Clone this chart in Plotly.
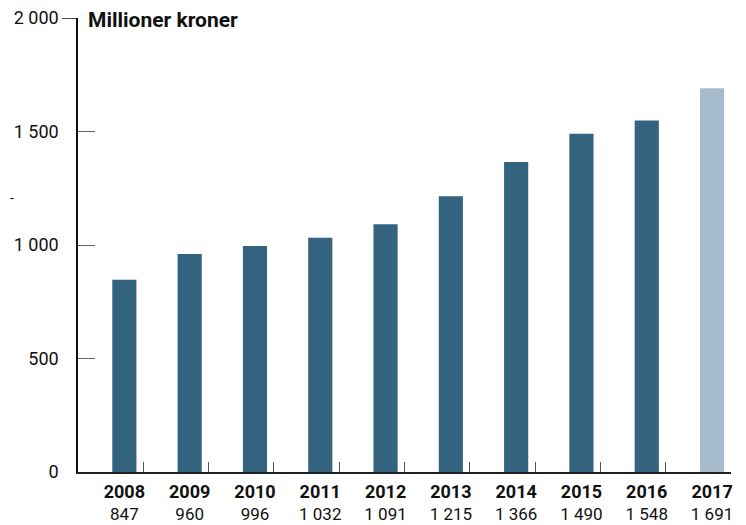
import plotly.graph_objects as go

years = ["2008", "2009", "2010", "2011", "2012", "2013", "2014", "2015", "2016", "2017"]
values = [847, 960, 996, 1032, 1091, 1215, 1366, 1490, 1548, 1691]
value_labels = ["847", "960", "996", "1 032", "1 091", "1 215", "1 366", "1 490", "1 548", "1 691"]
y_ticks = [0, 500, 1000, 1500, 2000]
y_tick_labels = ["0", "500", "1 000", "1 500", "2 000"]

dark = "#33637f"
light = "#a6bccd"
colors = [dark] * (len(years) - 1) + [light]

pos = list(range(len(years)))
# category separators sit just right of each bar
sep = [p + 0.29 for p in pos]
x_range = [-0.71, len(years) - 1 + 0.29]

fig = go.Figure()
fig.add_trace(go.Bar(
    x=pos, y=values, marker=dict(color=colors, line=dict(width=0)),
    width=0.37, showlegend=False, hoverinfo="skip",
))
# invisible trace to activate the separator axis
fig.add_trace(go.Scatter(x=sep, y=[None] * len(sep), xaxis="x2",
                         mode="markers", showlegend=False, hoverinfo="skip"))

# the page body adds an 8px margin, so the figure is 8px smaller each way
fig.update_layout(
    width=738, height=517,
    margin=dict(l=70, r=15, t=10, b=53, autoexpand=False),
    paper_bgcolor="white", plot_bgcolor="white",
    font=dict(family="Roboto, sans-serif", size=17, color="#111111"),
    xaxis=dict(
        range=x_range, tickvals=pos,
        ticktext=[f"<b><span style='font-size:18px'>{y}</span></b><br>{v}"
                  for y, v in zip(years, value_labels)],
        ticks="", showgrid=False, zeroline=False, automargin=False,
        showline=True, linecolor="#222222", linewidth=1.5,
        tickfont=dict(size=17), ticklabelstandoff=4,
    ),
    xaxis2=dict(
        range=x_range, overlaying="x", tickvals=sep, ticks="inside",
        ticklen=10, tickcolor="#555555", tickwidth=1.2, automargin=False,
        showticklabels=False, showgrid=False, zeroline=False, showline=False,
        side="bottom",
    ),
    yaxis=dict(
        range=[0, 2000], tickvals=y_ticks, ticktext=y_tick_labels,
        ticks="inside", ticklen=17, tickcolor="#666666", tickwidth=1.2,
        showgrid=False, zeroline=False, automargin=False,
        showline=True, linecolor="#111111", linewidth=1.5,
        tickfont=dict(size=18), ticklabelstandoff=14,
        ticklabeloverflow="allow",
    ),
    bargap=0.6,
)

# outside tick at the top of the y axis
fig.add_shape(type="line", xref="paper", yref="y", x0=-16 / 653, x1=0, y0=2000, y1=2000,
              line=dict(color="#111111", width=1.5))

fig.add_annotation(text="<b>Millioner kroner</b>", xref="paper", yref="paper",
                   x=8 / 653, y=(454 - 2) / 454, xanchor="left", yanchor="middle",
                   showarrow=False, font=dict(size=21, color="#111111"))
fig.add_annotation(text="-", xref="paper", yref="paper",
                   x=-70 / 653, y=(472 - 198) / 454, xanchor="left", yanchor="middle",
                   showarrow=False, font=dict(size=14, color="#111111"))

fig.write_html("out.html")
